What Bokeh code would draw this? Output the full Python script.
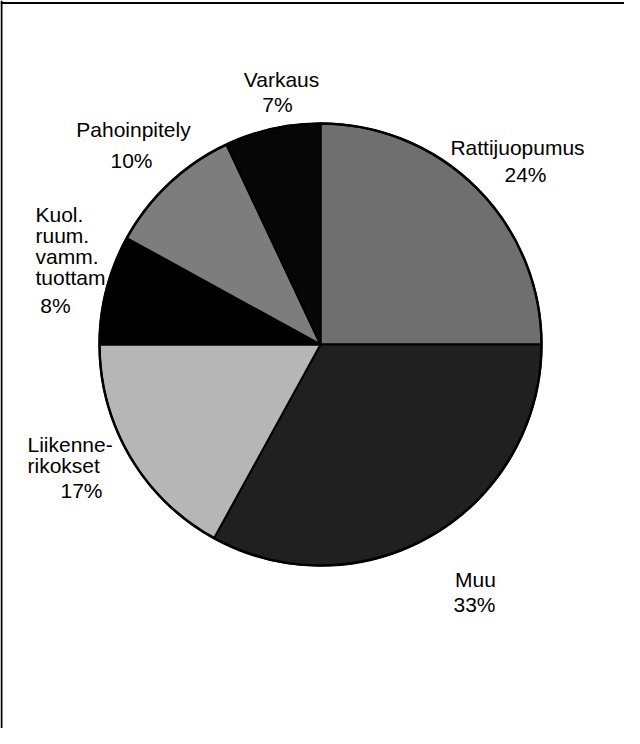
import numpy as np
from bokeh.plotting import figure
from bokeh.models import Range1d, Span, ColumnDataSource
from bokeh.core.properties import value
from bokeh.embed import file_html
from bokeh.resources import INLINE

# ---- data ----
categories = ["Rattijuopumus", "Muu", "Liikenne-\nrikokset",
              "Kuol.\nruum.\nvamm.\ntuottam", "Pahoinpitely", "Varkaus"]
# slice sizes
share = [25, 33, 17, 8, 10, 7]
# percentages as printed on the chart
pct_labels = ["24%", "33%", "17%", "8%", "10%", "7%"]
colors = ["#6f6f6f", "#202020", "#b6b6b6", "#000000", "#7d7d7d", "#060606"]

# ---- layout (page pixel coordinates) ----
W, H = 624, 728


def px(x):
    return x - 8


def py(y):
    return 736 - y


cx, cy, r = 328, 352, 221
# label anchors: (x, first baseline, align) for name; (x, baseline, align) for pct
name_pos = [(525, 155, "center"), (483, 587, "center"), (35, 452, "left"),
            (43, 222, "left"), (141, 137, "center"), (289, 87, "center")]
pct_pos = [(533, 182, "center"), (482, 612, "center"), (68, 498, "left"),
           (63, 313, "center"), (139, 168, "center"), (285, 112, "center")]
line_gap = [0, 0, 21, 21, 0, 0]

p = figure(width=W, height=H, output_backend="svg", toolbar_location=None,
           x_range=Range1d(0, W), y_range=Range1d(0, H), min_border=0)
p.axis.visible = False
p.grid.visible = False
p.outline_line_color = None
p.background_fill_color = "white"

vals = np.array(share, dtype=float)
cum = np.cumsum(vals) / vals.sum()
prev = np.concatenate([[0.0], cum[:-1]])
start = np.pi / 2 - 2 * np.pi * prev
end = np.pi / 2 - 2 * np.pi * cum

src = ColumnDataSource(dict(start=start, end=end, color=colors))
p.wedge(x=px(cx), y=py(cy), radius=r, start_angle="start", end_angle="end",
        direction="clock", fill_color="color", line_color="black",
        line_width=2, source=src)
p.circle(x=px(cx), y=py(cy), radius=r, fill_color=None, line_color="black",
         line_width=2.5)

# labels
rows = {"left": dict(x=[], y=[], t=[]), "center": dict(x=[], y=[], t=[])}
for cat, pc, (nx, ny, na), (qx, qy, qa), g in zip(categories, pct_labels,
                                                   name_pos, pct_pos, line_gap):
    for i, line in enumerate(cat.split("\n")):
        rows[na]["x"].append(px(nx))
        rows[na]["y"].append(py(ny + i * g))
        rows[na]["t"].append(line)
    rows[qa]["x"].append(px(qx))
    rows[qa]["y"].append(py(qy))
    rows[qa]["t"].append(pc)

for align, d in rows.items():
    p.text(x=d["x"], y=d["y"], text=d["t"], text_align=align,
           text_baseline="alphabetic", text_font=value("Liberation Sans"),
           text_font_size="21px", text_color="black")

# frame (top and left edges visible in the scan)
p.add_layout(Span(location=py(10.5), dimension="width", line_color="black",
                  line_width=2))
p.add_layout(Span(location=px(9), dimension="height", line_color="black",
                  line_width=2))

open("out.html", "w").write(file_html(p, INLINE))
